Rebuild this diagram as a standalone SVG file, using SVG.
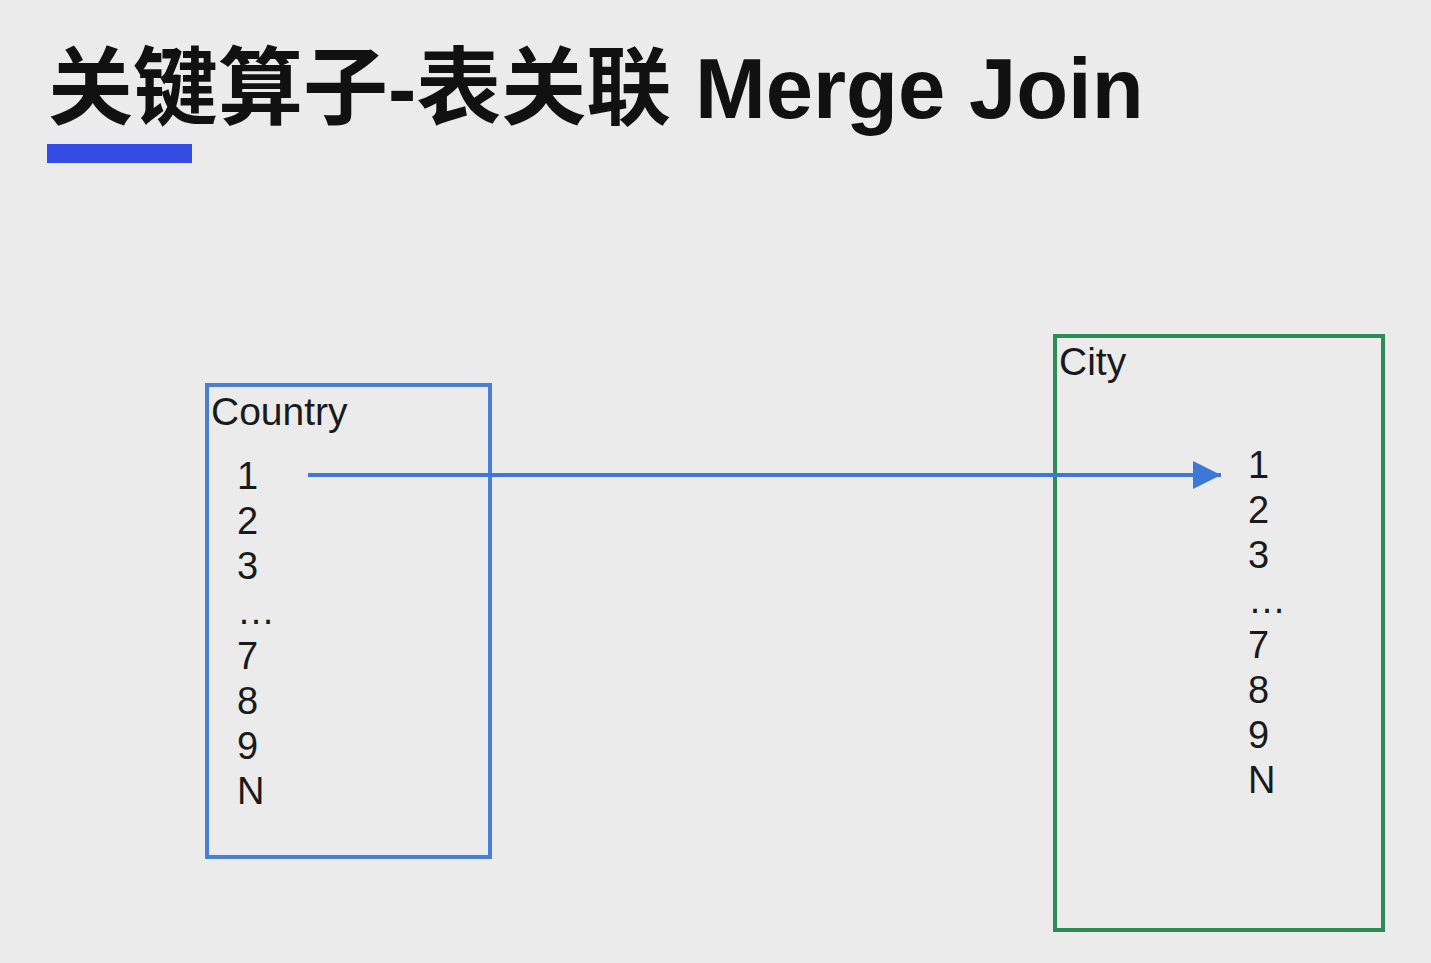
<svg xmlns="http://www.w3.org/2000/svg" width="1431" height="963" viewBox="0 0 1431 963">
<defs>
<style>
.title{font-family:"Liberation Sans","Noto Sans CJK SC",sans-serif;font-weight:bold;font-size:85px;fill:#111}
.lbl{font-family:"Liberation Sans",Arial,sans-serif;font-size:39px;fill:#1a1a1a}
.num{font-family:"Liberation Sans",Arial,sans-serif;font-size:38px;fill:#1a1a1a}
</style>
<marker id="ah" viewBox="0 0 10 10" refX="10" refY="5" markerWidth="7" markerHeight="7" orient="auto" markerUnits="strokeWidth">
<path d="M0,0 L10,5 L0,10 Z" fill="#3c78d8"/>
</marker>
</defs>
<rect width="1431" height="963" fill="#ebebeb"/>
<g id="title">
<text class="title" x="48" y="118">关键算子-表关联 Merge Join</text>
<rect x="47" y="144" width="145" height="19" fill="#344ce4"/>
</g>
<g id="country">
<rect x="207" y="385" width="283" height="472" fill="none" stroke="#4a7fd6" stroke-width="4"/>
<text class="lbl" x="211" y="425">Country</text>
<text class="num" x="237" y="489">1</text>
<text class="num" x="237" y="534">2</text>
<text class="num" x="237" y="579">3</text>
<text class="num" x="237" y="624">…</text>
<text class="num" x="237" y="669">7</text>
<text class="num" x="237" y="714">8</text>
<text class="num" x="237" y="759">9</text>
<text class="num" x="237" y="804">N</text>
</g>
<g id="city">
<rect x="1055" y="336" width="328" height="594" fill="none" stroke="#2e8a57" stroke-width="4"/>
<text class="lbl" x="1059" y="375">City</text>
<text class="num" x="1248" y="478">1</text>
<text class="num" x="1248" y="523">2</text>
<text class="num" x="1248" y="568">3</text>
<text class="num" x="1248" y="613">…</text>
<text class="num" x="1248" y="658">7</text>
<text class="num" x="1248" y="703">8</text>
<text class="num" x="1248" y="748">9</text>
<text class="num" x="1248" y="793">N</text>
</g>
<g id="connectors">
<line x1="308" y1="475" x2="1221" y2="475" stroke="#3c78d8" stroke-width="4" marker-end="url(#ah)"/>
</g>
</svg>
